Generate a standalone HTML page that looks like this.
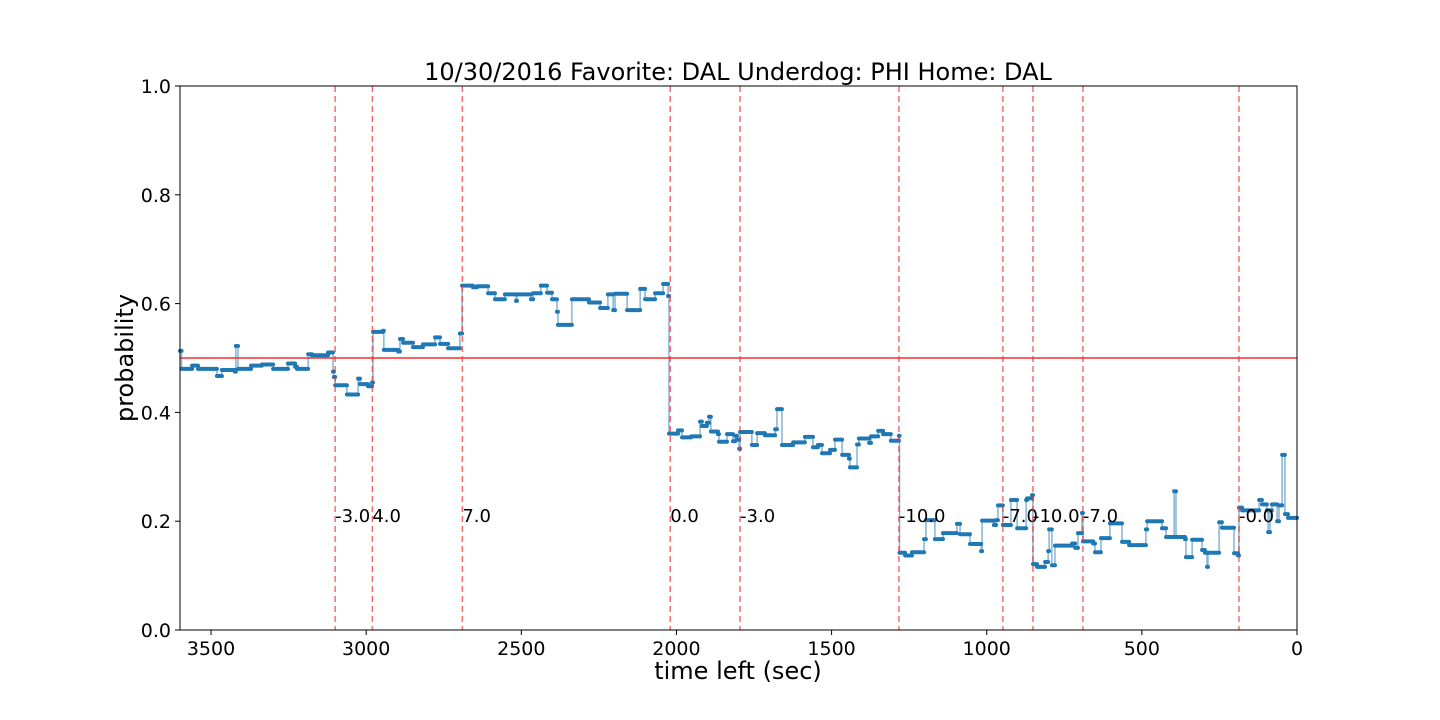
<!DOCTYPE html>
<html><head><meta charset="utf-8"><style>
body{margin:0;background:#fff;font-family:"DejaVu Sans","Liberation Sans",sans-serif}
svg{display:block}
</style></head><body>
<svg id="chart" width="1440" height="720" xmlns="http://www.w3.org/2000/svg">
<rect x="0" y="0" width="1440" height="720" fill="#fff"/>
<text x="738" y="80" text-anchor="middle" font-size="24">10/30/2016 Favorite: DAL Underdog: PHI Home: DAL</text>
<g id="plot"></g>
<rect x="180" y="86" width="1117" height="544" fill="none" stroke="#000" stroke-width="1"/>
<text x="738" y="679" text-anchor="middle" font-size="24">time left (sec)</text>
<text transform="translate(133,358) rotate(-90)" text-anchor="middle" font-size="24">probability</text>
</svg>
<script>
const times=[3600,3595,3561,3542,3481,3465,3423,3420,3413,3371,3336,3300,3252,3229,3223,3187,3175,3123,3107,3104,3100,3062,3026,3020,2994,2981,2978,2946,2943,2897,2891,2881,2849,2817,2778,2762,2736,2698,2691,2656,2643,2607,2585,2553,2517,2514,2469,2462,2437,2417,2401,2385,2382,2337,2282,2246,2221,2204,2198,2159,2117,2101,2069,2043,2027,2024,1995,1982,1953,1924,1918,1902,1895,1889,1866,1863,1837,1818,1811,1805,1798,1795,1757,1740,1715,1682,1676,1660,1624,1586,1560,1544,1531,1505,1489,1466,1444,1441,1418,1412,1379,1373,1350,1334,1309,1283,1281,1263,1241,1202,1196,1167,1141,1096,1086,1054,1018,1015,977,970,964,948,922,902,873,870,854,851,838,812,802,799,790,780,725,715,706,693,690,657,651,632,603,564,541,487,483,435,422,396,390,361,358,338,306,297,290,287,251,242,203,190,187,177,122,113,97,93,87,81,64,58,48,39,29];
const probs=[0.513,0.48,0.486,0.48,0.467,0.478,0.475,0.522,0.48,0.486,0.488,0.48,0.49,0.484,0.48,0.507,0.505,0.51,0.475,0.465,0.45,0.433,0.462,0.452,0.448,0.455,0.548,0.55,0.515,0.512,0.535,0.528,0.52,0.525,0.538,0.526,0.518,0.545,0.633,0.63,0.632,0.619,0.608,0.617,0.605,0.617,0.608,0.619,0.633,0.62,0.608,0.585,0.561,0.608,0.602,0.592,0.617,0.588,0.618,0.588,0.627,0.608,0.619,0.636,0.614,0.361,0.367,0.354,0.356,0.383,0.375,0.381,0.392,0.365,0.36,0.346,0.36,0.347,0.357,0.35,0.333,0.364,0.34,0.362,0.358,0.369,0.406,0.34,0.345,0.355,0.336,0.34,0.325,0.331,0.35,0.322,0.315,0.299,0.341,0.352,0.344,0.356,0.366,0.36,0.348,0.357,0.142,0.137,0.143,0.167,0.202,0.167,0.178,0.195,0.176,0.158,0.145,0.201,0.193,0.202,0.229,0.193,0.239,0.187,0.239,0.242,0.248,0.121,0.116,0.125,0.145,0.185,0.119,0.155,0.159,0.151,0.178,0.215,0.163,0.159,0.143,0.169,0.196,0.162,0.156,0.185,0.2,0.187,0.171,0.255,0.171,0.167,0.134,0.166,0.147,0.142,0.116,0.142,0.198,0.188,0.141,0.137,0.225,0.22,0.239,0.231,0.22,0.18,0.22,0.231,0.2,0.229,0.322,0.213,0.206];
const scoreTimes=[3100,2980,2690,2020,1795,1283,948,851,690,187];
const scoreLabels=["-3.0","4.0","7.0","0.0","-3.0","-10.0","-7.0","-10.0","-7.0","-0.0"];
const xTicks=[3500,3000,2500,2000,1500,1000,500,0];
const yTicks=[0.0,0.2,0.4,0.6,0.8,1.0];
const X0=180,X1=1297,Y0=630,Y1=86,TMAX=3600;
const xs=t=>X0+(TMAX-t)/TMAX*(X1-X0);
const ys=p=>Y0-p*(Y0-Y1);
const NS="http://www.w3.org/2000/svg";
const g=document.getElementById('plot');
function mk(tag,attrs){const e=document.createElementNS(NS,tag);for(const k in attrs)e.setAttribute(k,attrs[k]);g.appendChild(e);return e;}
xTicks.forEach(t=>{
 const l=mk('line',{x1:xs(t),x2:xs(t),y1:Y0,y2:Y0+5,stroke:'#000'});
 
 
 const tx=mk('text',{x:xs(t),y:Y0+25,'text-anchor':'middle','font-size':19});
 tx.textContent=t;
 
 
});
yTicks.forEach(p=>{
 const l=mk('line',{x1:X0-5,x2:X0,y1:ys(p),y2:ys(p),stroke:'#000'});
 
 
 const tx=mk('text',{x:X0-9,y:ys(p)+7,'text-anchor':'end','font-size':19});
 tx.textContent=p.toFixed(1);
 
 
});
let d='';
for(let i=0;i<times.length;i++){
 const tEnd=i+1<times.length?times[i+1]:0;
 d+=(i===0?'M':'L')+xs(times[i])+','+ys(probs[i])+'L'+xs(tEnd)+','+ys(probs[i]);
}
const thin=mk('path',{d:d,fill:'none',stroke:'#1f77b4','stroke-width':1.5,'stroke-opacity':0.55});


for(let i=0;i<times.length;i++){
 const tEnd=i+1<times.length?times[i+1]:0;
 const seg=mk('line',{x1:xs(times[i]),x2:xs(tEnd),y1:ys(probs[i]),y2:ys(probs[i]),stroke:'#1f77b4','stroke-width':4,'stroke-linecap':'round'});
 
 
}
const h=mk('line',{x1:X0,x2:X1,y1:ys(0.5),y2:ys(0.5),stroke:'#f03030','stroke-width':1.5});


scoreTimes.forEach((t,i)=>{
 const v=mk('line',{x1:xs(t),x2:xs(t),y1:Y1,y2:Y0,stroke:'#f03030','stroke-opacity':0.7,'stroke-width':1.5,'stroke-dasharray':'6,4'});
 
 
 const tx=mk('text',{x:xs(t),y:ys(0.2)+1,'font-size':18});
 tx.textContent=scoreLabels[i];
 
 
});
</script>
</body></html>
